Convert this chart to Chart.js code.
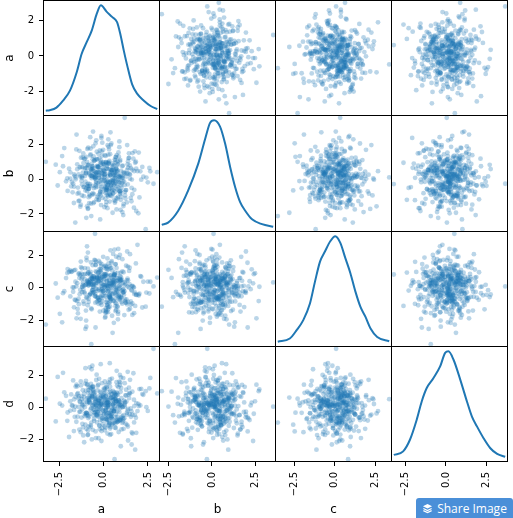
<!DOCTYPE html>
<html lang="en">
<head>
<meta charset="UTF-8">
<title>Scatter matrix</title>
<script src="https://cdn.jsdelivr.net/npm/chart.js"></script>
<style>
  body { margin: 0; background: #fff; }
  #fig { position: relative; width: 513px; height: 518px; overflow: hidden; font-family: 'DejaVu Sans', sans-serif; }
  .panel { position: absolute; }
  #share {
    position: absolute; left: 416px; top: 498px; width: 97px; height: 20px;
    background: #4a8fd8; color: #fff; border: none; border-radius: 3px 3px 0 0;
    font: 12px 'Open Sans', sans-serif; display: flex; align-items: center; justify-content: center;
    gap: 4px; padding: 0; cursor: pointer;
  }
</style>
</head>
<body>
<div id="fig">
  <button id="share"><svg width="11" height="11" viewBox="0 0 12 12"><path d="M6 1 11 3.5 6 6 1 3.5Z" fill="#fff"/><path d="M1.5 6 6 8.2 10.5 6" stroke="#fff" stroke-width="1.3" fill="none"/><path d="M1.5 8.3 6 10.5 10.5 8.3" stroke="#fff" stroke-width="1.3" fill="none"/></svg>Share Image</button>
</div>
<script>
const names = ['a', 'b', 'c', 'd'];

const a = [
  0.42, -1.13, 0.08, 1.57, -0.66, -0.21, 0.93, -2.04, 0.35, -0.47, 1.12, 0.61, -0.89, 0.17, -1.41,
  2.18, -0.05, -0.73, 0.54, 1.36, -1.62, 0.27, -0.34, 0.79, -0.98, 0.03, 1.84, -0.52, -1.27, 0.66,
  -0.15, 0.88, -2.46, 0.39, -0.81, 1.05, 0.22, -0.58, -1.09, 0.71, 1.49, -0.28, 0.12, -0.69, 2.63,
  -1.78, 0.47, 0.96, -0.37, -0.11, 1.23, -0.94, 0.58, -1.52, 0.31, -0.63, 0.14, 1.71, -0.24, 0.83,
  0.05, -1.36, 0.67, -0.86, 1.98, -0.43, 0.36, -0.17, 0.91, -2.21, 0.49, 1.17, -0.71, 0.26, -0.09,
  -0.55, 1.41, 0.19, -1.19, 0.73, -0.32, -3.25, 0.62, 1.02, -0.76, 0.44, -1.48, 0.09, 0.86, -0.39,
  1.29, -0.61, -0.02, 0.52, -1.06, 2.37, -0.26, 0.77, -0.84, 0.33, -1.71, 0.98, 0.16, -0.48, 1.63,
  -0.92, 0.24, 1.08, -0.14, -1.87, 0.69, 0.41, -0.67, 1.33, -0.08, 0.57, -1.24, 2.02, -0.35, 0.11,
  0.74, -0.44, -1.57, 0.29, 0.97, -0.79, 1.54, -0.19, 0.06, -1.02, 0.63, 0.38, -2.58, 1.19, -0.54,
  -0.27, 1.76, 0.51, -0.99, 0.18, -0.62, 0.85, 1.44, -1.31, 0.01, -0.46, 0.92, -0.13, 2.81, -0.75,
  0.34, -1.16, 0.81, -0.36, 1.27, -0.06, -0.91, 0.55, -1.94, 0.68, 0.13, -0.57, 1.06, -1.34, 0.45,
  -0.72, 0.21, 1.68, -0.49, -0.18, 0.89, -1.44, 0.07, 0.64, -0.83, 1.91, -0.23, 0.37, -1.11, 0.94,
  1.15, -0.31, -0.87, 0.43, -2.33, 0.76, 0.02, -0.64, 1.38, 0.28, -1.21, 0.59, -0.41, 1.82, -0.12,
  -0.04, 0.99, -1.66, 0.32, 0.71, -0.53, 1.11, -0.96, 0.15, 2.24, -0.38, -0.78, 0.48, -0.16, 1.37,
  -1.39, 0.56, 0.23, -0.85, 1.59, -0.29, 0.67, -1.05, -0.09, 0.82, -2.69, 0.39, 1.01, -0.59, 0.25,
  0.61, -0.74, 1.24, 0.04, -1.28, 0.46, -0.42, 1.78, -0.21, 0.87, -0.97, 0.18, -1.59, 0.72, 3.02,
  -0.33, 1.47, -0.68, 0.11, 0.94, -1.82, 0.35, -0.07, 1.21, -0.51, 0.53, -1.14, 0.26, 2.07, -0.88,
  0.79, -0.15, -1.03, 1.62, -0.45, 0.31, -0.82, 0.08, 1.35, -1.67, 0.66, -0.25, 0.97, -0.61, -0.01,
  -1.22, 0.43, 2.49, -0.56, 0.19, -0.93, 1.09, -0.37, 0.74, -0.12, -1.46, 0.58, 0.29, -0.77, 1.53,
  0.16, -2.11, 0.84, -0.19, 1.18, -0.66, 0.51, -1.32, -0.44, 0.92, 0.03, 1.73, -0.86, 0.37, -0.30,
  -0.48, 0.93, -1.17, 0.26, 0.64, -0.02, 1.31, -0.71, 0.19, -1.53, 0.82, 0.47, -0.36, 1.96, -0.88,
  0.11, -0.59, 0.72, -1.24, 1.43, -0.14, 0.36, -0.93, 0.58, 0.05, -2.28, 1.06, -0.41, 0.29, 0.77,
  -1.09, 0.44, -0.23, 1.21, -0.67, 0.15, 0.89, -1.41, -0.06, 0.62, 1.58, -0.52, 0.33, -0.81, 2.12,
  0.68, -0.31, 0.07, -1.66, 0.51, 1.13, -0.47, 0.24, -0.95, 0.39, -0.17, 1.72, -1.02, 0.57, -0.26,
  -0.74, 1.38, 0.21, -0.43, 0.96, -1.29, 0.03, 0.69, -0.61, 2.41, 0.16, -0.84, 0.48, -0.11, 1.04,
  0.32, -1.48, 0.85, -0.28, -0.64, 1.19, 0.41, -1.87, 0.13, 0.74, -0.38, 0.06, 1.49, -0.97, 0.55,
  -0.19, 0.66, -0.79, 1.62, 0.27, -1.13, 0.92, -0.53, 0.18, -0.02, 1.27, -1.36, 0.43, -0.69, 0.81,
  1.09, -0.24, 0.37, -2.02, 0.61, -0.45, 0.14, 1.84, -0.86, 0.28, -1.21, 0.53, -0.09, 0.98, -0.58,
  -0.35, 0.79, 1.46, -0.73, 0.09, -1.58, 0.46, -0.16, 1.12, -0.91, 0.67, 0.22, -1.05, 2.58, -0.42,
  0.57, -0.99, 0.12, 0.84, -0.57, 1.33, -0.29, -1.74, 0.38, 0.71, -0.12, 1.01, -0.63, 0.25, -1.19
];
const b = [
  -0.38, 0.91, 0.12, -1.27, 0.55, 1.63, -0.72, 0.04, -0.19, 1.08, -1.55, 0.33, 0.76, -0.61, 0.27,
  0.69, -0.09, 1.41, -0.84, -0.31, 0.18, 2.27, -1.02, 0.47, -0.53, 0.86, -1.83, 0.11, 1.22, -0.24,
  1.06, -0.67, 0.39, 0.21, -1.38, 0.73, -0.14, 1.87, -0.46, 0.58, 0.02, -0.93, 1.32, -2.12, 0.44,
  -0.17, 0.52, -0.79, 1.14, 0.29, -1.11, 0.63, -0.36, 2.54, -0.58, 0.15, 0.97, -1.64, 0.36, -0.04,
  0.81, -1.23, 0.24, -0.41, 1.51, 0.07, -0.88, 0.49, -0.21, 1.77, -0.63, 0.34, -1.41, 0.92, 0.13,
  -0.52, 1.19, -0.06, 0.67, -1.74, 0.41, 0.98, -0.29, 0.16, -0.97, 2.03, 0.56, -0.44, 1.28, -1.16,
  0.31, -0.81, 1.67, -0.12, 0.61, -2.87, 0.22, 0.84, -0.57, 1.03, -0.26, 0.46, -1.31, 0.09, 1.48,
  -0.69, 0.17, 0.77, -1.49, 0.38, 1.25, -0.33, 0.05, 1.94, -0.76, 0.53, -0.11, -1.05, 0.71, 0.28,
  1.37, -0.48, -0.02, 0.89, -1.19, 0.26, 0.62, -2.31, 0.43, -0.65, 1.11, 0.19, -0.37, 3.50, -0.86,
  0.06, 1.58, -0.54, 0.32, -0.91, 0.74, -0.18, 1.21, -1.58, 0.48, 0.01, -0.71, 0.95, -0.27, 2.39,
  -1.29, 0.37, 0.83, -0.43, 0.14, -1.07, 1.72, -0.22, 0.59, 0.94, -0.62, 0.25, -1.89, 0.66, -0.08,
  0.54, -0.35, 1.16, 0.03, -0.74, 2.15, -0.49, 0.28, -1.35, 0.79, 0.45, -0.15, 1.42, -0.98, 0.21,
  -0.13, 0.72, -1.67, 0.49, 1.31, -0.59, 0.08, -0.89, 0.64, 1.84, -0.32, -1.22, 0.35, 0.99, -0.45,
  0.87, -1.01, 0.26, -0.25, 0.57, 1.04, -2.06, 0.42, -0.68, 0.13, 1.56, -0.39, 0.76, -0.07, 0.31,
  -0.78, 0.19, 1.93, -0.56, -0.03, 0.68, -1.26, 1.17, 0.35, -0.47, 0.82, -0.94, 0.06, 2.71, -0.34,
  0.46, 1.35, -0.64, 0.23, -1.47, 0.51, -0.16, 0.93, -0.83, 0.12, 1.27, -0.51, -2.49, 0.61, 0.39,
  -0.23, 0.78, 0.17, -1.13, 1.09, -0.42, 0.57, 2.08, -0.73, 0.29, -0.05, 1.46, -0.99, 0.44, -1.71,
  1.01, -0.28, 0.65, -0.87, 0.22, 1.69, -0.55, -0.11, 0.84, -1.37, 0.37, 0.07, -0.66, 1.13, 0.53,
  -0.94, 0.41, -0.19, 1.29, 0.63, -1.56, 0.11, 0.75, -0.41, 2.46, -0.84, 0.27, 0.96, -0.29, -1.08,
  0.58, -0.13, 1.52, -0.71, 0.32, 0.88, -1.93, 0.14, -0.37, 1.01, 0.47, -0.62, 1.79, -0.16, 0.69,
  0.44, -0.86, 1.23, -0.19, 0.07, 0.95, -1.34, 0.58, -0.47, 1.69, 0.21, -0.73, 0.36, -1.96, 0.82,
  -0.28, 0.61, -1.09, 0.14, 1.47, -0.55, 0.29, 0.98, -0.12, -1.61, 0.73, 0.05, 2.21, -0.66, 0.41,
  1.15, -0.37, 0.52, -0.94, 0.18, -0.21, 1.82, -1.26, 0.66, 0.03, -0.51, 1.07, -0.83, 0.34, -0.04,
  -0.71, 0.27, 1.36, -0.44, 0.89, -1.43, 0.12, 0.57, -0.31, 2.67, -0.96, 0.45, -0.15, 0.78, -1.18,
  0.19, 1.02, -0.62, 0.38, -1.77, 0.69, -0.07, 1.26, -0.39, 0.08, 0.91, -1.04, 0.49, 1.58, -0.24,
  -0.53, 0.84, 0.16, -1.21, 0.63, -0.34, 1.94, 0.02, -0.79, 0.47, 1.12, -0.58, 0.25, -2.22, 0.71,
  0.92, -0.18, -0.89, 0.54, 1.39, -0.45, 0.11, -1.32, 0.76, 0.31, -0.63, 1.61, -0.09, 0.43, -1.02,
  -0.14, 1.18, 0.37, -0.68, 0.22, 2.04, -1.49, 0.59, -0.27, 0.86, 0.06, -0.81, 1.33, -0.36, 0.48,
  0.67, -1.12, 0.29, 1.74, -0.52, 0.09, -0.98, 0.81, 0.39, -0.41, 1.09, -1.67, 0.17, 0.63, -0.23,
  -0.61, 0.35, 0.96, -0.13, -1.38, 0.52, 1.44, -0.76, 0.24, 0.01, 2.35, -0.49, 0.72, -0.92, 0.15
];
const c = [
  0.27, -0.84, 1.36, -0.12, 0.59, -1.47, 0.03, 0.92, -0.56, 1.71, -0.29, 0.41, -1.08, 0.18, -0.67,
  -1.22, 0.66, -0.35, 2.11, 0.08, -0.73, 1.15, -0.19, 0.47, -2.03, 0.84, -0.44, 0.21, 1.29, -0.91,
  0.52, -0.06, -1.61, 0.77, 0.33, -0.98, 1.83, -0.27, 0.13, 0.61, -1.29, 0.96, -0.52, -3.50, 0.38,
  1.02, -0.41, 0.19, -0.86, 1.48, 0.24, -0.63, 0.71, -1.89, 0.46, -0.14, 1.19, 0.02, -0.76, 2.42,
  -0.31, 0.89, -1.14, 0.36, -0.48, 1.62, 0.11, -0.94, 0.57, -0.21, 1.07, -1.69, 0.28, 0.74, -0.09,
  0.64, -1.36, 0.45, 0.07, 1.24, -0.59, -2.28, 0.83, -0.17, 0.39, 1.56, -0.82, 0.16, -0.43, 0.97,
  -0.71, 0.23, 1.93, -0.38, 0.54, -1.17, 0.69, 0.01, -0.87, 1.34, -0.24, 0.48, -1.52, 3.36, 0.12,
  0.43, -0.96, 0.31, 1.11, -0.53, -0.11, 0.78, -1.33, 2.26, -0.64, 0.17, 0.88, -0.36, 0.58, -1.79,
  -0.18, 1.44, -0.77, 0.22, 0.95, -0.45, -1.04, 0.62, 0.04, -2.55, 0.81, 1.21, -0.61, 0.34, -0.26,
  1.67, -0.28, 0.51, -1.41, 0.14, 0.72, -0.69, 1.05, -0.13, 0.37, -0.92, 2.04, -0.47, 0.09, 0.85,
  -0.57, 0.32, -1.95, 0.68, 1.38, -0.22, 0.44, -0.81, 0.99, -0.04, -1.26, 0.56, 1.78, -0.39, 0.21,
  0.76, -1.09, 0.06, -0.49, 1.17, 0.41, -1.58, 0.87, -0.31, 0.15, 2.67, -0.74, 0.29, -0.99, 0.53,
  -0.42, 0.93, 0.35, -0.68, -2.14, 0.63, 1.27, -0.16, 0.47, -1.19, 0.05, 0.82, -0.55, 1.52, -0.08,
  0.19, -0.62, 1.09, 0.26, -1.37, 0.71, -0.25, 1.88, -0.89, 0.38, 0.61, -0.43, -1.73, 0.13, 1.32,
  -1.01, 0.48, -0.19, 0.94, 0.11, -0.79, 1.46, -0.34, 0.66, -1.48, 0.27, 2.33, -0.58, 0.07, -0.23,
  0.84, -0.37, -0.93, 0.55, 1.63, -0.15, 0.31, -1.12, 0.79, -0.51, -2.41, 0.42, 1.12, -0.27, 0.64,
  -0.65, 1.25, 0.18, -1.54, 0.46, 0.99, -0.41, 0.09, -0.82, 1.74, 0.36, -0.08, -1.21, 0.73, 2.19,
  0.33, -0.18, 0.86, -0.97, 1.41, -0.52, 0.25, -1.85, 0.58, 0.03, -0.66, 1.14, 0.44, -0.32, -1.42,
  1.21, -0.72, 0.39, 0.14, -1.06, 2.58, -0.29, 0.67, -0.46, 0.91, -1.31, 0.22, -0.11, 0.52, -0.84,
  -0.09, 0.61, -0.54, 1.57, -0.21, 0.35, -2.79, 0.79, 1.03, -0.63, 0.17, -0.38, 0.95, -1.16, 0.43,
  -0.52, 0.71, 0.18, -1.33, 0.94, -0.21, 0.46, 1.58, -0.77, 0.09, -1.62, 0.63, 0.32, -0.41, 1.19,
  0.83, -0.14, -0.96, 0.55, 0.02, 1.37, -0.59, 0.27, -2.17, 0.74, -0.33, 1.02, -0.08, 0.49, -1.14,
  -0.26, 1.26, 0.39, -0.72, 0.61, -1.46, 0.13, 0.88, -0.49, 2.38, -0.17, 0.57, -0.91, 0.24, 0.69,
  1.48, -0.63, 0.07, -1.21, 0.34, 0.97, -0.38, -0.02, 1.71, -0.82, 0.43, -1.57, 0.19, 0.78, -0.11,
  0.36, -0.87, 1.13, 0.21, -0.54, -1.92, 0.66, 0.04, 1.41, -0.29, 0.85, -0.68, 0.12, -1.06, 0.51,
  -0.44, 0.29, 1.87, -0.99, 0.58, 0.15, -0.31, 1.08, -1.38, 0.42, -0.06, 0.73, 2.09, -0.58, 0.26,
  1.04, -0.36, 0.48, -1.68, 0.11, 0.82, -0.74, 0.35, 1.29, -0.19, -0.92, 0.62, 0.01, -1.27, 0.93,
  -0.12, 0.54, -0.66, 1.17, 0.31, -2.46, 0.77, -0.43, 0.16, 1.52, -0.27, 0.45, -0.84, 0.67, 0.08,
  0.61, -1.18, 0.23, 0.99, -0.48, 0.38, 1.66, -0.57, -0.09, 0.86, -1.44, 0.14, 1.23, -0.35, 0.49,
  -0.79, 0.18, 1.36, -0.24, 0.72, -1.03, 0.41, 0.03, -0.61, 1.94, 0.28, -0.88, 0.53, -1.51, 0.65
];
const d = [
  -0.61, 0.38, 1.19, -0.24, 0.72, -1.36, 0.15, -0.83, 1.54, 0.06, -0.47, 0.91, -1.72, 0.29, 0.57,
  0.84, -1.05, -0.12, 0.46, 2.23, -0.58, 0.31, 1.07, -0.91, -0.33, 0.64, -1.58, 0.19, 1.38, -0.07,
  -0.36, 1.62, 0.24, -1.21, 0.53, 0.02, -0.75, 1.29, -2.17, 0.41, 0.87, -0.18, 0.69, -0.94, 1.85,
  0.13, -0.69, 0.98, -0.41, -1.47, 0.76, 0.35, -0.21, 1.43, -0.86, 2.61, -0.04, 0.49, -1.13, 0.22,
  1.11, -0.27, -0.88, 0.62, 0.09, -1.91, 1.76, -0.52, 0.34, 0.95, -0.14, -0.67, 1.24, 0.18, -1.29,
  -0.49, 0.81, 0.27, -1.02, 1.58, -0.31, 0.55, -3.23, 0.11, 0.73, -0.62, 1.33, -0.23, 0.44, 2.05,
  0.37, -1.39, 0.67, 0.16, -0.54, 1.02, -0.09, 0.88, -1.18, 0.26, 1.69, -0.77, -0.35, 0.52, -1.63,
  1.46, 0.04, -0.66, 0.93, -0.19, -1.28, 0.61, 2.39, -0.44, 0.17, -0.97, 0.71, 1.15, -0.28, 0.39,
  -0.82, 0.57, 1.31, -0.13, -2.42, 0.46, -0.58, 0.99, 0.23, -1.07, 0.78, -0.37, 1.91, 0.05, -0.71,
  0.28, -0.46, 0.83, 1.67, -0.92, 0.14, -1.53, 0.59, -0.26, 1.18, 0.42, -0.81, 0.08, 3.67, -0.39,
  0.96, -1.24, 0.33, -0.07, 0.75, -0.65, 1.41, 0.21, -1.84, 0.63, -0.16, 1.05, -0.55, 0.38, 0.01,
  -1.11, 0.48, 2.14, -0.34, 0.19, -0.78, 0.89, -1.42, 0.54, 1.26, -0.22, 0.07, -0.99, 0.66, 1.57,
  0.43, -0.57, -1.69, 0.85, 0.12, 1.37, -0.43, 0.71, -2.06, 0.32, -0.11, 0.94, 1.72, -0.64, 0.25,
  -0.17, 1.22, 0.51, -0.96, 0.37, -0.29, 1.84, -1.33, 0.08, 0.79, -0.48, 2.51, -0.72, 0.16, -1.19,
  0.69, -0.08, -0.61, 1.09, -1.56, 0.45, 0.27, -0.39, 1.52, 0.02, -0.87, 0.58, -1.37, 1.13, 0.34,
  -0.24, 0.97, -1.01, 0.31, 1.63, -0.53, 0.17, -2.63, 0.74, 0.41, -0.32, 1.28, 0.06, -0.76, 0.88,
  1.36, -0.42, 0.59, -1.26, -0.03, 0.82, 2.77, -0.68, 0.29, -0.15, 1.04, -1.74, 0.47, 0.13, -0.51,
  -0.89, 0.23, 1.49, -0.45, 0.67, -1.08, 0.36, 0.92, -0.19, -1.47, 0.54, 1.79, -0.63, 0.11, 0.76,
  0.52, -1.66, -0.21, 0.86, 1.16, -0.37, 0.04, -0.93, 2.29, 0.39, -0.57, 0.68, -1.14, 0.27, -0.06,
  -0.44, 0.73, 1.27, -0.79, 0.15, -1.99, 0.62, 0.35, -0.27, 1.41, -0.71, 0.09, 0.91, -1.31, 0.48,
  0.31, -0.74, 1.08, 0.15, -1.26, 0.62, -0.33, 1.47, 0.06, -0.89, 0.44, 1.81, -0.52, 0.23, -1.44,
  -0.18, 0.97, 0.41, -0.63, 1.24, -0.07, -1.71, 0.58, 0.29, -0.41, 2.17, -0.96, 0.13, 0.76, -0.24,
  0.86, -0.45, -1.12, 0.35, 0.69, 1.39, -0.28, 0.04, -0.81, 0.52, -2.31, 0.93, 0.18, -0.56, 1.16,
  -0.62, 0.27, 1.63, -0.15, 0.48, -1.33, 0.79, 0.09, -0.37, 1.02, 0.64, -0.93, 2.46, -0.21, 0.36,
  1.21, -0.09, -0.77, 0.54, 0.17, -1.54, 0.88, -0.43, 1.34, 0.02, -0.68, 0.46, -1.06, 0.71, 0.25,
  -0.34, 0.83, 0.12, -1.92, 0.65, 1.52, -0.26, 0.39, -0.71, 0.94, 0.08, -1.17, 1.73, -0.48, 0.21,
  0.57, -1.01, 0.33, 0.99, -0.55, 0.14, 2.03, -0.83, 0.47, -0.19, 1.11, -1.38, 0.62, -0.04, 0.79,
  -0.87, 0.42, 1.29, -0.31, 0.05, -1.49, 0.73, 0.28, -0.66, 1.57, 0.19, -0.99, 0.51, 1.88, -0.13,
  0.38, -0.58, 0.92, -1.22, 0.16, 0.67, -0.39, 2.71, -0.74, 0.26, 0.84, -1.63, 0.03, 1.19, -0.46,
  -0.23, 1.06, 0.49, -0.84, 0.31, -1.08, 1.43, 0.11, -0.52, 0.77, -2.09, 0.58, 1.27, -0.36, 0.14
];

// kernel density curves on the diagonal (x: value, y: density)
const kdeAx = [-3.25, -3.03, -2.65, -2.28, -1.89, -1.51, -1.23, -0.95, -0.66, -0.38, -0.15, 0.17, 0.48, 0.76, 0.94, 1.14, 1.33, 1.61, 1.90, 2.27, 2.65, 3.02];
const kdeAy = [0.004, 0.006, 0.016, 0.042, 0.080, 0.150, 0.220, 0.264, 0.309, 0.372, 0.404, 0.380, 0.360, 0.340, 0.296, 0.232, 0.176, 0.104, 0.068, 0.042, 0.022, 0.010];
const kdeBx = [-2.87, -2.51, -1.93, -1.36, -0.78, -0.40, -0.11, 0.12, 0.46, 0.75, 1.04, 1.33, 1.61, 1.90, 2.29, 2.86, 3.50];
const kdeBy = [0.011, 0.020, 0.067, 0.147, 0.254, 0.348, 0.414, 0.424, 0.399, 0.332, 0.239, 0.159, 0.101, 0.067, 0.033, 0.014, 0.004];
const kdeCx = [-3.50, -2.76, -2.35, -1.93, -1.52, -1.21, -0.90, -0.59, -0.27, 0.04, 0.35, 0.66, 0.97, 1.28, 1.59, 1.90, 2.21, 2.62, 3.36];
const kdeCy = [0.003, 0.015, 0.046, 0.085, 0.148, 0.231, 0.307, 0.346, 0.384, 0.403, 0.378, 0.320, 0.263, 0.193, 0.135, 0.097, 0.053, 0.021, 0.005];
const kdeDx = [-3.23, -2.65, -2.23, -1.81, -1.50, -1.19, -0.78, -0.36, -0.05, 0.155, 0.47, 0.89, 1.30, 1.61, 1.92, 2.33, 2.75, 3.17, 3.67];
const kdeDy = [0.011, 0.025, 0.070, 0.148, 0.219, 0.271, 0.309, 0.355, 0.408, 0.414, 0.381, 0.303, 0.219, 0.160, 0.122, 0.076, 0.037, 0.015, 0.004];

const xTicks = [-2.5, 0, 2.5];
const xTickLabels = ['\u22122.5', '0.0', '2.5'];
const yTicks = [-2, 0, 2];
const yTickLabelsTop = ['-2', '0', '2'];
const yTickLabels = ['\u22122', '0', '2'];

const series = [a, b, c, d];
const kdes = [[kdeAx, kdeAy], [kdeBx, kdeBy], [kdeCx, kdeCy], [kdeDx, kdeDy]];

// grid geometry (px)
const colX = [43, 159, 275, 391];
const rowY = [0, 115, 231, 346];
const colW = 116, rowH = [115, 116, 115, 116];
const axisW = 43, axisH = 56, figH = 518;
const blue = '#1f77b4';
const tickFont = { family: 'DejaVu Sans', size: 10 };
const labelFont = { family: 'DejaVu Sans', size: 12 };

function bounds(v, pad) {
  const lo = Math.min(...v), hi = Math.max(...v), ext = (hi - lo) * pad;
  return [lo - ext, hi + ext];
}

// keep the plot area exactly where the grid puts it
function noPad(s) {
  s.paddingTop = s.paddingBottom = s.paddingLeft = s.paddingRight = 0;
}

const frame = {
  id: 'frame',
  afterDraw(chart) {
    const { ctx, chartArea: ca } = chart;
    ctx.save();
    ctx.strokeStyle = '#000';
    ctx.lineWidth = 1;
    ctx.strokeRect(ca.left + 0.5, ca.top + 0.5, ca.right - ca.left - 1, ca.bottom - ca.top - 1);
    ctx.restore();
  }
};

const fig = document.getElementById('fig');

for (let i = 0; i < 4; i++) {
  for (let j = 0; j < 4; j++) {
    const isLeft = j === 0, isBottom = i === 3;
    const left = isLeft ? 0 : colX[j];
    const top = rowY[i];
    const w = colX[j] + colW + 1 - left;
    const h = (isBottom ? figH : rowY[i] + rowH[i] + 1) - top;

    const box = document.createElement('div');
    box.className = 'panel';
    box.style.cssText = `left:${left}px;top:${top}px;width:${w}px;height:${h}px;`;
    const cv = document.createElement('canvas');
    box.appendChild(cv);
    fig.insertBefore(box, document.getElementById('share'));

    const xb = bounds(series[j], 0.025);
    const yb = bounds(series[i], 0.025);
    const datasets = [];
    const scales = {
      x: {
        type: 'linear', position: 'bottom', min: xb[0], max: xb[1], display: isBottom,
        afterBuildTicks: s => { s.ticks = xTicks.map(v => ({ value: v })); },
        afterFit: s => { noPad(s); if (isBottom) s.height = axisH; },
        ticks: { autoSkip: false, minRotation: 90, maxRotation: 90, padding: 6, color: '#000', font: tickFont,
                 callback: (v, k) => xTickLabels[k] },
        grid: { drawOnChartArea: false, tickLength: 4, color: '#000' },
        border: { display: false },
        title: { display: true, text: names[j], color: '#000', font: labelFont, padding: { top: 0, bottom: 1 } }
      },
      y: {
        type: 'linear', position: 'left', min: yb[0], max: yb[1], display: isLeft,
        afterBuildTicks: s => { s.ticks = yTicks.map(v => ({ value: v })); },
        afterFit: s => { noPad(s); if (isLeft) s.width = axisW; },
        ticks: { autoSkip: false, padding: 5, color: '#000', font: tickFont,
                 callback: (v, k) => (i === 0 ? yTickLabelsTop : yTickLabels)[k] },
        grid: { drawOnChartArea: false, tickLength: 4, color: '#000' },
        border: { display: false },
        title: { display: true, text: names[i], color: '#000', font: labelFont, padding: { top: 3, bottom: 0 } }
      }
    };

    if (i === j) {
      const [kx, ky] = kdes[i];
      const kb = bounds(ky, 0.05);
      scales.yk = { type: 'linear', position: 'right', display: false, min: kb[0], max: kb[1], afterFit: noPad };
      datasets.push({
        data: kx.map((x, k) => ({ x, y: ky[k] })),
        yAxisID: 'yk', showLine: true, borderColor: blue, borderWidth: 2,
        pointRadius: 0, cubicInterpolationMode: 'monotone', fill: false, clip: 0
      });
    } else {
      datasets.push({
        data: series[j].map((x, k) => ({ x, y: series[i][k] })),
        pointRadius: 2.4, pointBorderWidth: 0,
        pointBackgroundColor: 'rgba(31,119,180,0.31)', clip: 0
      });
    }

    new Chart(cv, {
      type: 'scatter',
      data: { datasets },
      options: {
        responsive: true, maintainAspectRatio: false, animation: false,
        layout: { padding: 0, autoPadding: false },
        plugins: { legend: { display: false }, tooltip: { enabled: false } },
        events: [],
        scales
      },
      plugins: [frame]
    });
  }
}
</script>
</body>
</html>
